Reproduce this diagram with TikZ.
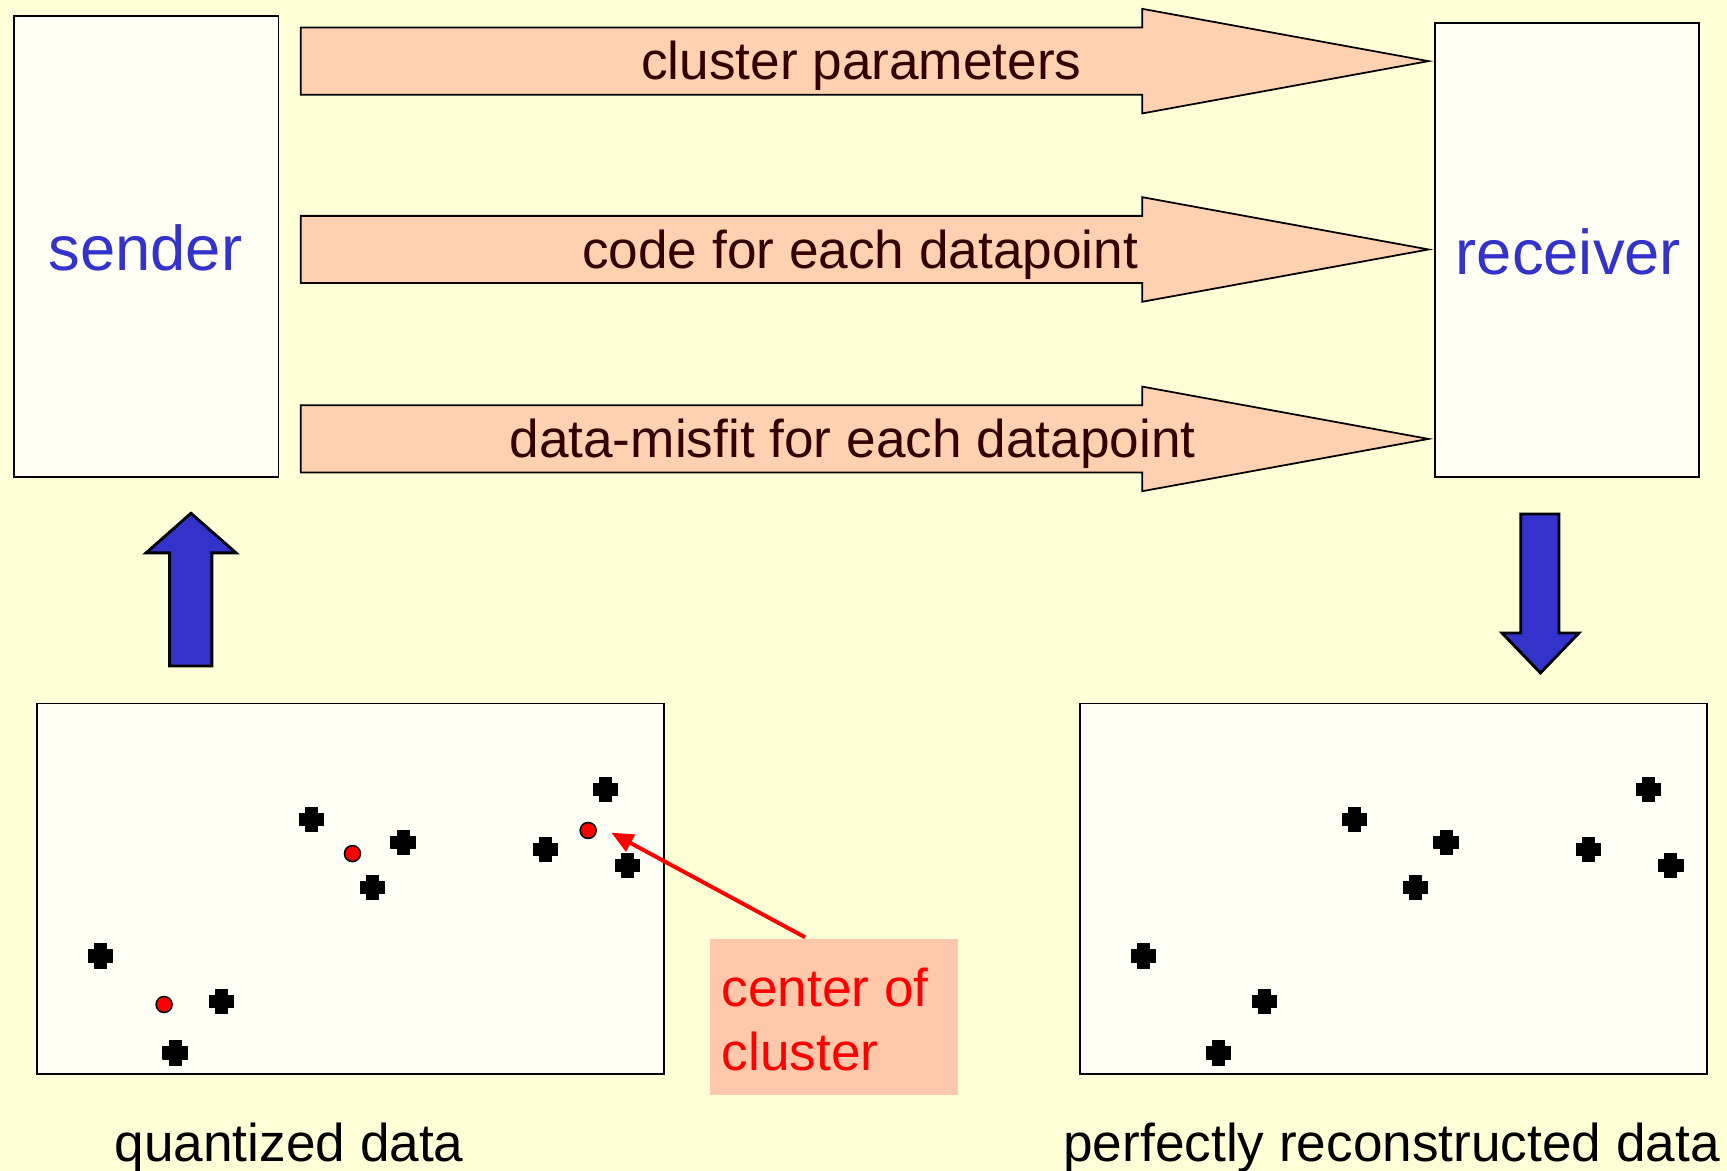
\documentclass[tikz,border=0pt]{standalone}
\usepackage{fontspec}
\setmainfont{Liberation Sans}
\usetikzlibrary{arrows.meta}
\definecolor{bgyellow}{RGB}{255,255,215}
\definecolor{boxfill}{RGB}{255,255,246}
\definecolor{peach}{RGB}{255,209,176}
\definecolor{calloutfill}{RGB}{255,200,170}
\definecolor{roleblue}{RGB}{51,51,204}
\definecolor{darkbrown}{RGB}{51,0,0}
\tikzset{
  panel/.style={draw=black, line width=1.6pt, fill=boxfill, inner sep=0pt},
  fatarrow/.style={draw=black, line width=1.6pt, fill=peach, line join=miter},
  flowarrow/.style={draw=black, line width=2.6pt, fill=roleblue, line join=miter},
  rolelabel/.style={text=roleblue, font=\fontsize{57.5}{60}\selectfont, anchor=base, inner sep=0pt},
  msglabel/.style={text=darkbrown, font=\fontsize{48.3}{55}\selectfont, anchor=base, inner sep=0pt},
  caption/.style={text=black, font=\fontsize{48.3}{55}\selectfont, anchor=base, inner sep=0pt},
  datapoint/.pic={\filldraw[black, line width=1pt, line join=round]
    (-5.5,-11) -- (5.5,-11) -- (5.5,-5.5) -- (11,-5.5) -- (11,5.5) -- (5.5,5.5) -- (5.5,11)
    -- (-5.5,11) -- (-5.5,5.5) -- (-11,5.5) -- (-11,-5.5) -- (-5.5,-5.5) -- cycle;},
  centre/.style={circle, draw=black, line width=1.4pt, fill=red, minimum size=14.5pt, inner sep=0pt}
}
\begin{document}
\begin{tikzpicture}[x=1pt, y=-1pt]
  % canvas
  \fill[bgyellow] (0,0) rectangle (1568,1063);
  \useasboundingbox (0,0) rectangle (1568,1063);

  % sender and receiver
  \node[panel, minimum width=240pt, minimum height=418pt, anchor=north west] (sender) at (12,14) {};
  \node[panel, minimum width=240pt, minimum height=412pt, anchor=north west] (receiver) at (1302,20) {};
  \node[rolelabel] (senderlabel) at (132,246) {sender};
  \node[rolelabel] (receiverlabel) at (1424,248.8) {receiver};

  % three message arrows
  \foreach \cy/\nm in {55.5/msgA, 226.5/msgB, 398.5/msgC}{
    \path[fatarrow] (273,\cy-30.5) -- (1037,\cy-30.5) -- (1037,\cy-47.5)
      -- (1297,\cy) coordinate (\nm tip) -- (1037,\cy+47.5) -- (1037,\cy+30.5)
      -- (273,\cy+30.5) -- cycle;
  }
  \node[msglabel] (msgAtext) at (782,72.5) {cluster parameters};
  \node[msglabel] (msgBtext) at (781,243.5) {code for each datapoint};
  \node[msglabel] (msgCtext) at (774,415.5) {data-misfit for each datapoint};

  % up arrow into the sender, down arrow out of the receiver
  \path[flowarrow] (154,604.7) -- (154,502) -- (132.6,502) -- (173.4,466)
    -- (214.3,502) -- (192.4,502) -- (192.4,604.7) -- cycle;
  \path[flowarrow] (1380.7,466.7) -- (1415.5,466.7) -- (1415.5,574.7) -- (1433.6,574.7)
    -- (1398.6,611) -- (1363.7,574.7) -- (1380.7,574.7) -- cycle;

  % data panels
  \node[panel, minimum width=569pt, minimum height=336pt, anchor=north west] (quant) at (33,638) {};
  \node[panel, minimum width=569pt, minimum height=336pt, anchor=north west] (recon) at (980,638) {};

  \foreach \px/\py in {91/868, 159/956, 201/909, 283/744, 338/806, 366/765, 495/771, 550/717, 570/786}{
    \pic at (\px,\py) {datapoint};
    \pic at (\px+947,\py) {datapoint};
  }
  \node[centre] (cA) at (149,912) {};
  \node[centre] (cB) at (320,775) {};
  \node[centre] (cC) at (534,754) {};

  % callout
  \node[fill=calloutfill, minimum width=224.6pt, minimum height=142.2pt, inner sep=0pt, anchor=north west] (callout) at (644.6,852) {};
  \node[text=red, font=\fontsize{48.3}{57.5}\selectfont, anchor=base west, inner sep=0pt, align=left] (callouttext) at (655,971.5) {center of\\cluster};
  \coordinate (callouttail) at (731,851);
  \draw[red, line width=3.6pt, -{Triangle[length=20pt, width=17pt]}] (callouttail) -- ([xshift=21pt,yshift=-2pt]cC.center);

  % captions
  \node[caption] (quantcap) at (262.5,1055) {quantized data};
  \node[caption] (reconcap) at (1263.5,1055) {perfectly reconstructed data};
\end{tikzpicture}
\end{document}
